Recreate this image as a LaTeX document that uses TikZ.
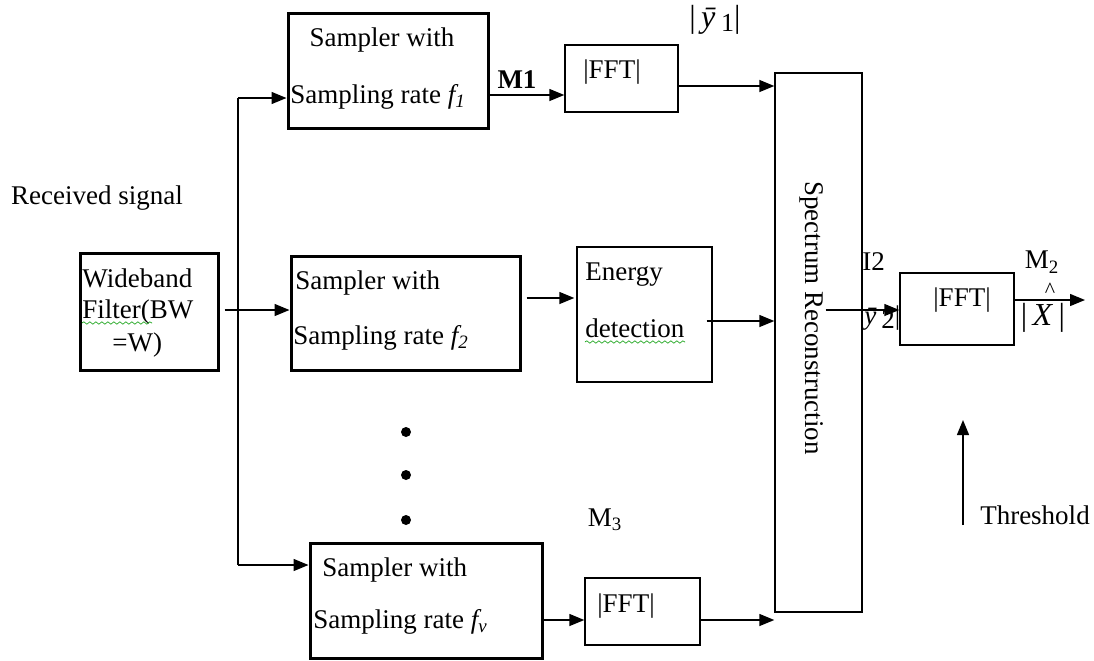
\documentclass[tikz,border=0pt]{standalone}
\usepackage{fontspec}
\setmainfont{Liberation Serif}
\usetikzlibrary{arrows.meta,decorations.pathmorphing}
\begin{document}
\begin{tikzpicture}[x=0.5pt,y=-0.5pt,
  every node/.style={font=\fontsize{13.5}{16}\selectfont, inner sep=0pt},
  thinbox/.style={draw, line width=0.7pt},
  conn/.style={line width=0.7pt},
  arr/.style={line width=0.7pt, -{Triangle[length=7.5pt,width=6pt]}},
  squig/.style={draw=green!60!black, line width=0.3pt, decorate, decoration={snake, amplitude=0.6pt, segment length=3pt}},
  lbl/.style={anchor=west}
]
\useasboundingbox (0,0) rectangle (1094,660);
% boxes
\node[draw, line width=1.5pt, minimum width=100pt, minimum height=57.5pt] (s1) at (388,70.5) {};
\node[thinbox, minimum width=56.5pt, minimum height=33.5pt] (fft1) at (621.5,78.5) {};
\node[thinbox, minimum width=43.5pt, minimum height=269.5pt] (spec) at (818.5,342.5) {};
\node[draw, line width=1.5pt, minimum width=69pt, minimum height=58.5pt] (wb) at (149,311.5) {};
\node[draw, line width=1.5pt, minimum width=114.5pt, minimum height=57pt] (s2) at (405.5,313) {};
\node[thinbox, minimum width=67.5pt, minimum height=67.5pt] (en) at (644.5,314.5) {};
\node[draw, line width=1.5pt, minimum width=116pt, minimum height=57.5pt] (sv) at (426,600.5) {};
\node[thinbox, minimum width=57.5pt, minimum height=33.5pt] (fft3) at (642.5,611.5) {};
\node[thinbox, minimum width=57pt, minimum height=36pt] (fft4) at (957,309) {};

% texts
\node (rx) at (97,198) {Received signal};
\node[lbl] (wb1) at (82,278) {Wideband};
\node[lbl] (wb2) at (82,312) {Filter(BW};
\node[lbl] (wb3) at (112,345) {=W)};
\node (s1a) at (382,40) {Sampler with};
\node[lbl] (s1b) at (290,97) {Sampling rate \textit{f\textsubscript{1}}};
\node (m1) at (517,80) {\textbf{M1}};
\node (fft1t) at (612,72) {|FFT|};
\node (y1) at (715,20) {\fontsize{16}{18}\selectfont|\,\textit{\=y}\,\raisebox{-2pt}{\fontsize{13}{15}\selectfont 1}|};
\node[lbl] (s2a) at (295,283) {Sampler with};
\node[lbl] (s2b) at (293,338) {Sampling rate \textit{f\textsubscript{2}}};
\node[lbl] (ena) at (585,275) {Energy};
\node[lbl] (enb) at (585,328) {detection};
\node[lbl] (sva) at (322,570) {Sampler with};
\node[lbl] (svb) at (313,622) {Sampling rate \textit{f\textsubscript{v}}};
\node (m3) at (605,520) {M\textsubscript{3}};
\node (fft3t) at (626,606) {|FFT|};
\node[rotate=-90] (spect) at (812,318) {Spectrum Reconstruction};
\node[lbl] (i2) at (862,262) {I2};
\node[lbl] (y2) at (864,318) {\textit{\=y}\,\raisebox{-2pt}{2}|};
\node (fft4t) at (962,300) {|FFT|};
\node (m2) at (1042,262) {M\textsubscript{2}};
\node (hat) at (1050,290) {\fontsize{11}{12}\selectfont\textasciicircum};
\node (xx) at (1043,318) {\fontsize{16}{18}\selectfont|\,\textit{X}\,|};
\node (thr) at (1035,515) {Threshold};

% spell-check squiggles
\draw[squig] (82,323) -- (152,323);
\draw[squig] (585,342) -- (685,342);

% dots
\fill (406,432) circle (5);
\fill (406,475) circle (5);
\fill (406,520) circle (5);

% coordinates
\coordinate (vtop) at (238,98);
\coordinate (vbot) at (238,565);
\coordinate (out) at (1085,300);
\coordinate (thb) at (963,525);
\coordinate (tht) at (963,420);

% connectors
\draw[conn] (vtop) -- (vbot);
\draw[arr] (vtop) -- (s1.west |- vtop);
\draw[arr] (vbot) -- (sv.west |- vbot);
\draw[arr] ([xshift=2.5pt]wb.east |- 0,310) -- (s2.west |- 0,310);
\draw[arr] (s1.east |- 0,95) -- (fft1.west |- 0,95);
\draw[arr] (fft1.east |- 0,86) -- (spec.west |- 0,86);
\draw[arr] ([xshift=2.5pt]s2.east |- 0,298) -- ([xshift=-1pt]en.west |- 0,298);
\draw[arr] ([xshift=-3pt]en.east |- 0,321) -- (spec.west |- 0,321);
\draw[arr] (sv.east |- 0,620) -- (fft3.west |- 0,620);
\draw[arr] (fft3.east |- 0,620) -- (spec.west |- 0,620);
\draw[arr] ([xshift=-18.5pt]spec.east |- 0,310) -- (fft4.west |- 0,310);
\draw[arr] (fft4.east |- out) -- (out);
\draw[arr] (thb) -- (tht);
\end{tikzpicture}
\end{document}
